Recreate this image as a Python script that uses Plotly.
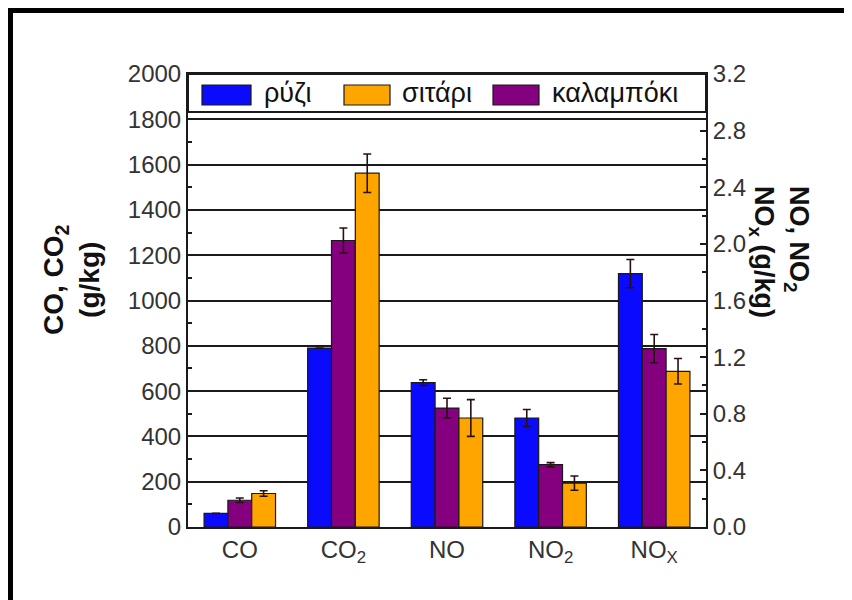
import plotly.graph_objects as go

# ---- data ----
categories = ["CO", "CO<sub>2</sub>", "NO", "NO<sub>2</sub>", "NO<sub>X</sub>"]
left_cats = categories[:2]    # g/kg on left axis
right_cats = categories[2:]   # g/kg on right axis

series_names = ["ρύζι", "καλαμπόκι", "σιτάρι"]   # bar order inside each group
series_colors = ["#0a0aff", "#85007f", "#ffa500"]

rice_left = [60, 790]
rice_right = [1.02, 0.77, 1.79]
rice_left_err = [None, None]
rice_right_err = [0.02, 0.06, 0.10]

corn_left = [118, 1265]
corn_right = [0.84, 0.44, 1.26]
corn_left_err = [10, 55]
corn_right_err = [0.07, 0.015, 0.10]

wheat_left = [148, 1562]
wheat_right = [0.77, 0.31, 1.10]
wheat_left_err = [12, 85]
wheat_right_err = [0.13, 0.05, 0.09]

legend_order = ["ρύζι", "σιτάρι", "καλαμπόκι"]

left_ticks = list(range(0, 2001, 200))
right_ticks = [0.0, 0.4, 0.8, 1.2, 1.6, 2.0, 2.4, 2.8, 3.2]

left_vals = [rice_left, corn_left, wheat_left]
right_vals = [rice_right, corn_right, wheat_right]
left_errs = [rice_left_err, corn_left_err, wheat_left_err]
right_errs = [rice_right_err, corn_right_err, wheat_right_err]

fig = go.Figure()
tick_font = dict(family="Liberation Sans, Arial, sans-serif", size=24, color="#333333")
err_style = dict(type="data", color="#2a1010", thickness=1.6, width=4)

for i, name in enumerate(series_names):
    fig.add_trace(go.Bar(
        x=left_cats, y=left_vals[i], name=name, yaxis="y",
        marker=dict(color=series_colors[i], line=dict(color="#1a1a1a", width=1.2)),
        error_y=dict(array=left_errs[i], **err_style),
        offsetgroup=str(i), alignmentgroup="g", showlegend=False))
for i, name in enumerate(series_names):
    fig.add_trace(go.Bar(
        x=right_cats, y=right_vals[i], name=name, yaxis="y2",
        marker=dict(color=series_colors[i], line=dict(color="#1a1a1a", width=1.2)),
        error_y=dict(array=right_errs[i], **err_style),
        offsetgroup=str(i), alignmentgroup="g", showlegend=False))

OFF = 8  # page offset of the figure inside the window
W, H = 852 - OFF, 600 - OFF
L, R, T, B = 188 - OFF, 706 - OFF, 74 - OFF, 527 - OFF
def px(x):
    return (x - OFF - L) / (R - L)
def py(y):
    return (B - (y - OFF)) / (B - T)

shapes = []
annotations = []
# outer frame of the picture
shapes.append(dict(type="rect", xref="paper", yref="paper",
                   x0=px(10), x1=px(900), y0=py(660), y1=py(10),
                   line=dict(color="black", width=6), fillcolor="rgba(0,0,0,0)", layer="above"))
# custom legend box
shapes.append(dict(type="rect", xref="paper", yref="paper",
                   x0=0, x1=1, y0=py(112), y1=1,
                   line=dict(color="#1a1a1a", width=2), fillcolor="white", layer="above"))
legend_pos = {"ρύζι": (202, 251, 262), "σιτάρι": (344, 390, 400), "καλαμπόκι": (493, 539, 550)}
for name in legend_order:
    i = series_names.index(name)
    x0, x1, tx = legend_pos[name]
    shapes.append(dict(type="rect", xref="paper", yref="paper",
                       x0=px(x0), x1=px(x1), y0=py(105), y1=py(85),
                       line=dict(color="#1a1a1a", width=1.2), fillcolor=series_colors[i], layer="above"))
    annotations.append(dict(xref="paper", yref="paper", x=px(tx), y=py(93),
                            text=name, showarrow=False, xanchor="left", yanchor="middle",
                            font=dict(family="Liberation Sans, Arial, sans-serif", size=27, color="#111")))

# axis titles
annotations.append(dict(xref="paper", yref="paper", x=px(71), y=py(280),
                        text="<b>CO, CO<sub>2</sub></b><br><b>(g/kg)</b>", textangle=-90,
                        showarrow=False, xanchor="center", yanchor="middle", align="center",
                        font=dict(family="Liberation Sans, Arial, sans-serif", size=28, color="#111")))
annotations.append(dict(xref="paper", yref="paper", x=px(780), y=py(252),
                        text="<b>NO, NO<sub>2</sub></b><br><b>NO<sub>x</sub> (g/kg)</b>", textangle=90,
                        showarrow=False, xanchor="center", yanchor="middle", align="left",
                        font=dict(family="Liberation Sans, Arial, sans-serif", size=27, color="#111")))

fig.update_layout(
    width=W, height=H,
    margin=dict(l=L, r=W - R, t=T, b=H - B),
    paper_bgcolor="white", plot_bgcolor="white",
    barmode="group", bargap=0.31, bargroupgap=0,
    showlegend=False,
    shapes=shapes, annotations=annotations,
    xaxis=dict(categoryorder="array", categoryarray=categories,
               showline=True, linecolor="#1a1a1a", linewidth=2, mirror=True,
               ticks="", tickfont=tick_font, showgrid=False, zeroline=False),
    yaxis=dict(range=[0, 2000], tickvals=left_ticks, showline=True, linecolor="#1a1a1a",
               linewidth=2, ticks="inside", ticklen=5, tickwidth=1.5, tickcolor="#1a1a1a",
               minor=dict(dtick=100, ticks="inside", ticklen=4, tickwidth=1.5, tickcolor="#1a1a1a", showgrid=False),
               showgrid=True, gridcolor="#1a1a1a", gridwidth=2.2, zeroline=False,
               tickfont=tick_font),
    yaxis2=dict(range=[0, 3.2], tickvals=right_ticks, tickformat=".1f", overlaying="y", side="right",
                showline=True, linecolor="#1a1a1a", linewidth=2, ticks="inside", ticklen=6,
                tickwidth=1.5, tickcolor="#1a1a1a",
                minor=dict(dtick=0.2, ticks="inside", ticklen=4, tickwidth=1.5, tickcolor="#1a1a1a", showgrid=False),
                showgrid=False, zeroline=False, tickfont=tick_font),
)

fig.write_html("out.html")
